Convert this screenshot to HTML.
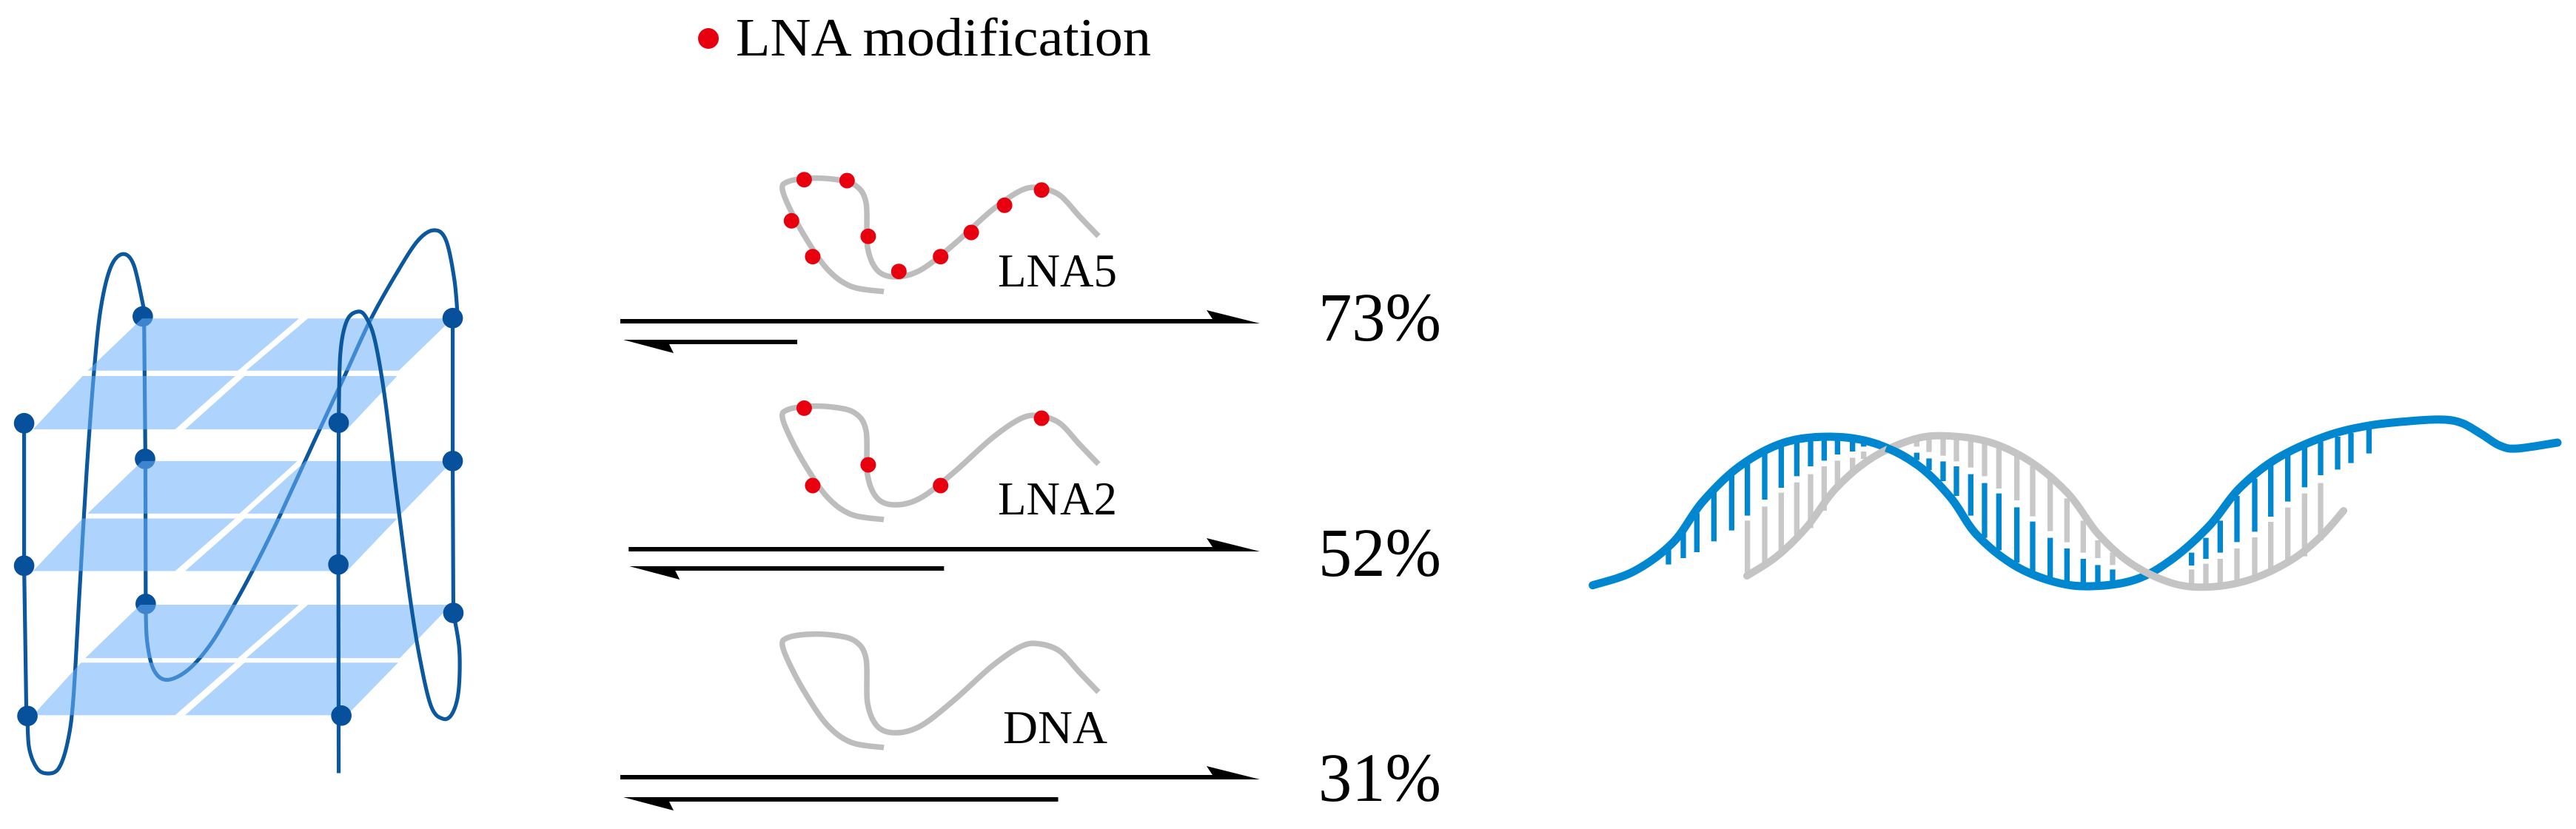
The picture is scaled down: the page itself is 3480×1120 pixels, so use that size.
<!DOCTYPE html>
<html lang="en">
<head>
<meta charset="utf-8">
<title>LNA modification and G-quadruplex to duplex equilibrium</title>
<style>
html,body{margin:0;padding:0;background:#fff;width:3480px;height:1120px;overflow:hidden}
svg{display:block}
text{font-family:"Liberation Serif",serif;fill:#000}
.dk{fill:none;stroke:#0B589F;stroke-width:5.2;vector-effect:non-scaling-stroke;stroke-linecap:round}
.pl{fill:#6CB1FB;fill-opacity:.55}
.nd{fill:#07509C}
.rd{fill:#E8000F}
.st{fill:none;stroke:#BDBDBD;stroke-width:7.5;stroke-linecap:butt}
.rb{fill:none;stroke:#0087CF;stroke-width:22}
.rg{fill:none;stroke:#C8C8C8;stroke-width:22}
</style>
</head>
<body>
<svg id="fig" xmlns="http://www.w3.org/2000/svg" width="3480" height="1120" viewBox="0 0 3480 1120">
  <defs>
    <path id="strand" class="st" data-smooth="1194,1010 1150,1003 1118,980 1090,940 1068,900 1057,872 1063,862 1090,857 1125,858 1155,866 1170,890 1172,950 1186,982 1212,990 1245,980 1290,945 1340,900 1380,873 1405,870 1432,880 1458,908 1484,935"/>
  </defs>

  <g id="quadruplex" transform="translate(0,250) scale(.4464,.5548)">
    <g>
      <path class="dk" data-smooth="83,1293 88,1370 112,1420 143,1433 178,1420 205,1355 222,1250 240,1000 262,700 285,450 305,300 335,200 372,168 405,195 435,300"/>
      <path class="dk" d="M436 320L440 667L441 1020"/>
      <path class="dk" data-smooth="441,1020 445,1110 465,1180 505,1205 570,1180 640,1115 710,1020 780,915 850,800 950,625 1040,470 1120,330 1200,215 1265,135 1315,110 1350,135 1375,230 1385,320"/>
      <ellipse class="nd" cx="432" cy="320" rx="31" ry="25"/>
      <ellipse class="nd" cx="439" cy="667" rx="31" ry="25"/>
      <ellipse class="nd" cx="441" cy="1020" rx="31" ry="25"/>
    </g>
    <g>
      <polygon class="pl" points="430,325 905,325 720,452 265,452"/>
      <polygon class="pl" points="932,325 1370,325 1207,452 745,452"/>
      <polygon class="pl" points="250,465 712,465 530,595 100,595"/>
      <polygon class="pl" points="740,465 1202,465 1050,595 560,595"/>
    </g>
    <g>
      <polygon class="pl" points="430,672 900,672 725,800 265,800"/>
      <polygon class="pl" points="925,672 1370,672 1215,800 748,800"/>
      <polygon class="pl" points="250,812 712,812 530,940 100,940"/>
      <polygon class="pl" points="740,812 1202,812 1050,940 560,940"/>
    </g>
    <g>
      <polygon class="pl" points="425,1022 905,1022 720,1152 258,1152"/>
      <polygon class="pl" points="932,1022 1365,1022 1210,1152 745,1152"/>
      <polygon class="pl" points="245,1163 712,1163 530,1291 100,1291"/>
      <polygon class="pl" points="740,1163 1205,1163 1050,1291 560,1291"/>
    </g>
    <g>
      <path class="dk" d="M73 580L73 927L80 1293"/>
      <path class="dk" d="M1025 579L1024 924L1025 1432" style="stroke-linecap:butt"/>
      <path class="dk" d="M1370 324L1370 672L1372 1042"/>
      <path class="dk" data-smooth="1372,1042 1390,1130 1388,1230 1370,1285 1342,1300 1305,1270 1270,1150 1240,1000 1200,750 1165,520 1135,380 1110,325 1085,308 1050,330 1030,410 1025,579"/>
      <ellipse class="nd" cx="73" cy="580" rx="31" ry="25"/>
      <ellipse class="nd" cx="73" cy="927" rx="31" ry="25"/>
      <ellipse class="nd" cx="83" cy="1293" rx="31" ry="25"/>
      <ellipse class="nd" cx="1025" cy="579" rx="31" ry="25"/>
      <ellipse class="nd" cx="1024" cy="924" rx="31" ry="25"/>
      <ellipse class="nd" cx="1033" cy="1292" rx="31" ry="25"/>
      <ellipse class="nd" cx="1370" cy="324" rx="31" ry="25"/>
      <ellipse class="nd" cx="1370" cy="672" rx="31" ry="25"/>
      <ellipse class="nd" cx="1372" cy="1042" rx="31" ry="25"/>
    </g>
  </g>

  <g>
    <circle class="rd" cx="957" cy="52" r="14"/>
    <text x="994" y="75" font-size="73" textLength="561" lengthAdjust="spacingAndGlyphs">LNA modification</text>
  </g>

  <g>
    <use href="#strand" transform="translate(0,-616)"/>
    <circle class="rd" cx="1086.4" cy="242.7" r="10.5"/>
    <circle class="rd" cx="1144.3" cy="244" r="10.5"/>
    <circle class="rd" cx="1069.3" cy="298.3" r="10.5"/>
    <circle class="rd" cx="1172.9" cy="319.3" r="10.5"/>
    <circle class="rd" cx="1097.9" cy="346.7" r="10.5"/>
    <circle class="rd" cx="1214.3" cy="366.7" r="10.5"/>
    <circle class="rd" cx="1270.7" cy="346.7" r="10.5"/>
    <circle class="rd" cx="1312.1" cy="314" r="10.5"/>
    <circle class="rd" cx="1357.1" cy="277.3" r="10.5"/>
    <circle class="rd" cx="1407.1" cy="256.7" r="10.5"/>
    <text x="1348" y="387" font-size="63">LNA5</text>
  </g>
  <g>
    <use href="#strand" transform="translate(0,-308)"/>
    <circle class="rd" cx="1086.4" cy="551.4" r="10.5"/>
    <circle class="rd" cx="1172.9" cy="628" r="10.5"/>
    <circle class="rd" cx="1097.9" cy="656" r="10.5"/>
    <circle class="rd" cx="1270.7" cy="656" r="10.5"/>
    <circle class="rd" cx="1407.1" cy="565" r="10.5"/>
    <text x="1348" y="695" font-size="63">LNA2</text>
  </g>
  <g>
    <use href="#strand"/>
    <text x="1355" y="1004" font-size="63" textLength="141" lengthAdjust="spacingAndGlyphs">DNA</text>
  </g>

  <g id="equilibria"></g>

  <g>
    <g transform="translate(2140,540) scale(.33333)">
      <path class="rg" d="M662 490V700M732 433V660M799 377V615M862 335V570M918 302V520M973 270V450M1027 247V360M1088 235V300M1133 210V240"/>
      <path class="rb" d="M342 600V668M402 530V642M457 460V618M526 365V574M598 290V530M662 260V470M732 215V405M799 175V357M862 160V310M918 155V270M973 150V247M1027 150V222M1088 155V210M1133 170V190"/>
    </g>
    <g transform="translate(2520,540) scale(.33333)">
      <path class="rg" d="M208 160V190M258 155V212M315 150V227M369 150V250M427 155V275M483 165V310M541 185V360M614 230V408M678 270V473M749 320V533M817 400V578M883 490V620M942 570V642M1002 620V670"/>
      <path class="rb" d="M208 215V245M258 238V285M315 250V330M369 270V390M427 302V470M483 338V560M541 380V610M614 436V660M678 494V700M749 560V725M817 603V740M883 645V750M942 670V755M1002 688V745"/>
    </g>
    <g transform="translate(2900,540) scale(.33333)">
      <path class="rg" d="M182 688V745M240 665V750M298 645V750M366 603V745M438 558V730M503 495V700M572 437V670M640 380V635M705 338V570"/>
      <path class="rb" d="M182 620V672M240 560V645M298 490V620M366 390V577M438 320V535M503 260V474M572 225V413M640 195V355M705 170V306M774 150V283M828 135V257M901 115V218"/>
    </g>
    <path fill="none" stroke="#0087CF" stroke-width="11" stroke-linecap="round" data-smooth="2151.7,790.7 2207,772 2260,733 2300,678 2350,630 2410,598 2473,590 2533,599 2590,628 2635,672 2670,722 2720,763 2775,786 2825,792 2885,783 2935,755 2985,710 3025,660 3075,620 3140,590 3200,575 3267,568 3303,567 3327,572 3353,587 3377,602 3400,606 3455,598"/>
    <path fill="none" stroke="#C4C4C4" stroke-width="10" stroke-linecap="round" data-smooth="2360,778 2400,752 2440,713 2480,660 2530,618 2587,593 2633,589 2690,598 2745,625 2795,668 2835,722 2880,762 2935,788 2985,793 3040,783 3095,757 3135,725 3166,690"/>
    <path fill="none" stroke="#0087CF" stroke-width="11" d="M2548,605Q2570,613 2590,628"/>
  </g>
</svg>
<script>
// Equilibrium data
const species = ['LNA5', 'LNA2', 'DNA'];
const yieldPercent = [73, 52, 31];
const forwardShare = [100, 98.7, 100];
const reverseShare = [27.2, 49.2, 68];

// Axis functions
const fullLength = 864, arrowTip = 1702;
function rowY(i) { return 434 + 308 * i; }
function forwardStart(share) { return arrowTip - fullLength * share / 100; }
function reverseLength(share) { return fullLength * share / 100; }

const NS = 'http://www.w3.org/2000/svg';
const host = document.getElementById('equilibria');
function make(tag, attrs) {
  const el = document.createElementNS(NS, tag);
  for (const k in attrs) el.setAttribute(k, attrs[k]);
  host.appendChild(el);
  return el;
}
species.forEach(function (name, i) {
  const y = rowY(i);
  const x0 = forwardStart(forwardShare[i]);
  const fwd = make('rect', {x: x0, y: y - 3, width: 1640 - x0, height: 6, fill: '#000'});
  
  
  const fh = make('polygon', {points: '1630,' + (y - 15) + ' ' + arrowTip + ',' + (y + 3) + ' 1638,' + (y + 3) + ' 1638,' + (y - 3), fill: '#000'});
  
  
  const ry = y + 28 + (i === 2 ? 2 : 0) - (i === 1 ? 2 : 0);
  const xt = x0 + (i === 1 ? 1 : 4);
  const xe = xt + reverseLength(reverseShare[i]);
  const rev = make('rect', {x: xt + 58, y: ry - 3, width: xe - xt - 58, height: 6, fill: '#000'});
  
  
  const rh = make('polygon', {points: xt + ',' + (ry - 3) + ' ' + (xt + 68) + ',' + (ry + 15) + ' ' + (xt + 62) + ',' + (ry + 3) + ' ' + (xt + 62) + ',' + (ry - 3), fill: '#000'});
  
  
  const t = make('text', {x: 1781, y: y + 26 + (i === 1 ? 10 : i === 2 ? 6 : 0), 'font-size': 93, textLength: 166, lengthAdjust: 'spacingAndGlyphs'});
  
  
  t.textContent = yieldPercent[i] + '%';
});

// Smooth illustration curves through their control points
document.querySelectorAll('[data-smooth]').forEach(function (p) {
  const pts = p.getAttribute('data-smooth').trim().split(/\s+/).map(function (s) { return s.split(',').map(Number); });
  let d = 'M' + pts[0][0] + ' ' + pts[0][1];
  for (let i = 0; i < pts.length - 1; i++) {
    const a = pts[Math.max(i - 1, 0)], b = pts[i], c = pts[i + 1], e = pts[Math.min(i + 2, pts.length - 1)];
    d += 'C' + (b[0] + (c[0] - a[0]) / 6) + ' ' + (b[1] + (c[1] - a[1]) / 6) + ' ' +
         (c[0] - (e[0] - b[0]) / 6) + ' ' + (c[1] - (e[1] - b[1]) / 6) + ' ' + c[0] + ' ' + c[1];
  }
  p.setAttribute('d', d);
});
</script>
</body>
</html>
